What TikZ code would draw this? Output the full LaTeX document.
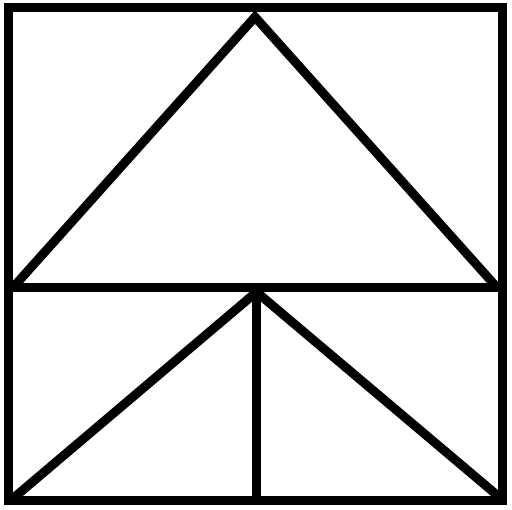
\documentclass[tikz,border=0pt]{standalone}
\begin{document}
\begin{tikzpicture}[x=1pt,y=-1pt,line width=9pt,edge/.style={draw=black,line join=miter}]
\useasboundingbox (0,0) rectangle (512,510);
\coordinate (tl) at (8,8); \coordinate (br) at (502,501);
\coordinate (ml) at (8,287.5); \coordinate (mr) at (502,287.5);
\coordinate (top) at (255,17);
\coordinate (ul) at (13,287.5); \coordinate (ur) at (497,287.5);
\coordinate (mid) at (256.5,292); \coordinate (bm) at (256.5,501);
\coordinate (bl) at (10,501); \coordinate (bre) at (504,501);
\draw[edge] (tl) rectangle (br);
\draw[edge] (ml) -- (mr);
\draw[edge] (ul) -- (top) -- (ur);
\draw[edge] (bl) -- (mid) -- (bre);
\draw[edge] (mid) -- (bm);
\end{tikzpicture}
\end{document}
